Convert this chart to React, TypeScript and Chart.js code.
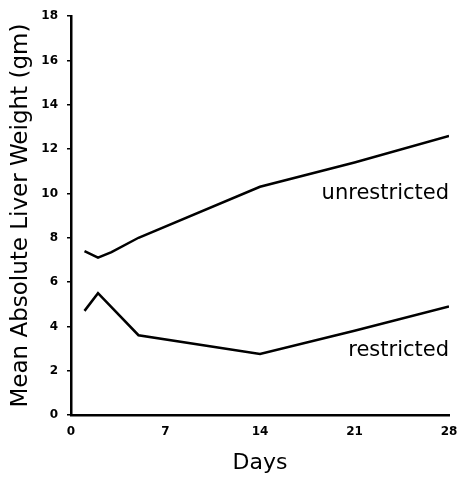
import React, { useEffect, useRef } from "react";
import { Chart, registerables } from "chart.js";

Chart.register(...registerables);

const unrestrictedDays = [1, 2, 3, 5, 14, 21, 28];
const unrestrictedWeight = [7.4, 7.1, 7.35, 8.0, 10.3, 11.4, 12.6];
const restrictedDays = [1, 2, 5, 14, 21, 28];
const restrictedWeight = [4.7, 5.5, 3.6, 2.75, 3.8, 4.9];
const curveLabels = ["unrestricted", "restricted"];
const curveLabelPos = [
  { x: 28, y: 10.0 },
  { x: 28, y: 2.9 },
];
const xTitle = "Days";
const yTitle = "Mean Absolute Liver Weight (gm)";

const FONT = "'DejaVu Sans', sans-serif";

const labelPlugin = {
  id: "curveLabels",
  afterDatasetsDraw(chart: any) {
    const { ctx, scales } = chart;
    ctx.save();
    ctx.fillStyle = "#000";
    ctx.font = `21px ${FONT}`;
    ctx.textAlign = "right";
    ctx.textBaseline = "middle";
    curveLabels.forEach((t, i) => {
      const p = curveLabelPos[i];
      ctx.fillText(t, scales.x.getPixelForValue(p.x), scales.y.getPixelForValue(p.y));
    });
    ctx.restore();
  },
};

export default function App() {
  const ref = useRef<HTMLCanvasElement>(null);
  useEffect(() => {
    if (!ref.current) return;
    const chart = new Chart(ref.current, {
      type: "line",
      data: {
        datasets: [
          {
            label: curveLabels[0],
            data: unrestrictedDays.map((d, i) => ({ x: d, y: unrestrictedWeight[i] })),
            borderColor: "#000",
            borderWidth: 2.5,
            pointRadius: 0,
            tension: 0,
          },
          {
            label: curveLabels[1],
            data: restrictedDays.map((d, i) => ({ x: d, y: restrictedWeight[i] })),
            borderColor: "#000",
            borderWidth: 2.5,
            pointRadius: 0,
            tension: 0,
          },
        ],
      },
      options: {
        animation: false,
        responsive: true,
        maintainAspectRatio: false,
        layout: { padding: { top: 8, right: 19, left: 0, bottom: 0 } },
        plugins: { legend: { display: false }, tooltip: { enabled: false } },
        scales: {
          x: {
            type: "linear",
            min: 0,
            max: 28,
            afterFit: (s: any) => {
              s.height = 63;
            },
            ticks: {
              stepSize: 7,
              color: "#000",
              padding: 10,
              maxRotation: 0,
              font: { family: FONT, size: 12, weight: "bold" },
            },
            grid: { display: true, drawOnChartArea: false, drawTicks: false },
            border: { display: true, color: "#000", width: 2.5 },
            title: {
              display: true,
              text: xTitle,
              color: "#000",
              padding: { top: 0, bottom: 2 },
              font: { family: FONT, size: 22 },
            },
          },
          y: {
            min: 0,
            max: 18,
            afterFit: (s: any) => {
              s.width = 71;
            },
            ticks: {
              stepSize: 2,
              color: "#000",
              padding: 9,
              font: { family: FONT, size: 12, weight: "bold" },
            },
            grid: {
              display: true,
              drawOnChartArea: false,
              drawTicks: true,
              tickLength: 4,
              color: "#000",
              lineWidth: 1.5,
            },
            border: { display: true, color: "#000", width: 2.5 },
            title: {
              display: true,
              text: yTitle,
              color: "#000",
              padding: { top: 7, bottom: 0 },
              font: { family: FONT, size: 23 },
            },
          },
        },
      },
      plugins: [labelPlugin],
    });
    return () => chart.destroy();
  }, []);
  return (
    <div style={{ position: "fixed", left: 0, top: 0, width: 468, height: 478, background: "#fff" }}>
      <canvas ref={ref} />
    </div>
  );
}
